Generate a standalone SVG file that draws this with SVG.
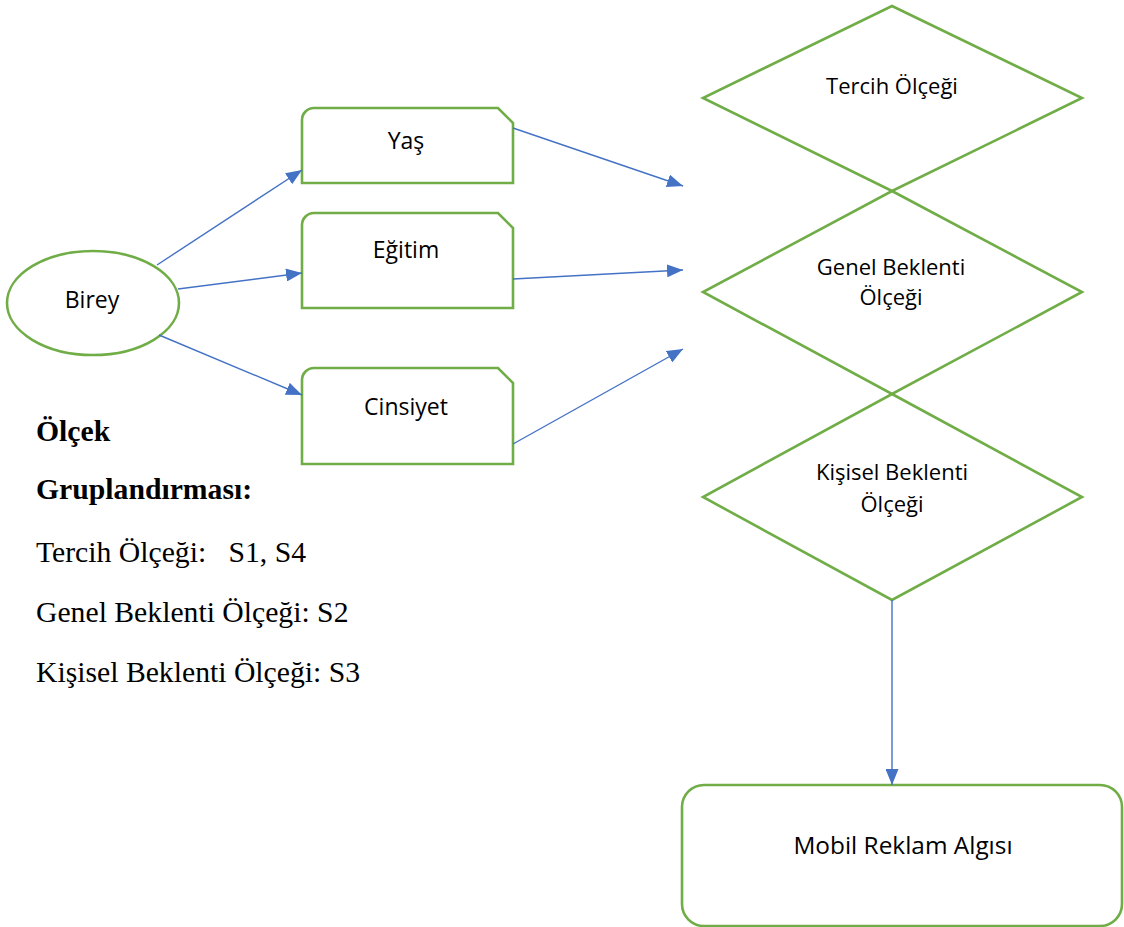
<svg xmlns="http://www.w3.org/2000/svg" width="1124" height="927" viewBox="0 0 1124 927">
<defs>
<style>
.node{fill:#FFFFFF;stroke:#70AD47;stroke-width:2.6;stroke-linejoin:miter}
.lbl{font-family:"Open Sans","Noto Sans","Liberation Sans",sans-serif;font-size:23px;fill:#000000;text-anchor:middle}
.big{font-size:24.4px}
.dlbl{font-family:"Open Sans","Noto Sans","Liberation Sans",sans-serif;font-size:22px;fill:#000000;text-anchor:middle}
.conn{fill:none;stroke:#4472C4;stroke-width:1.4}
.serif{font-family:"Liberation Serif","Times New Roman",serif;font-size:29.7px;fill:#000000}
.bold{font-weight:bold}
</style>
<marker id="arr" viewBox="0 0 16 13" refX="16" refY="6.5" markerWidth="16" markerHeight="13" markerUnits="userSpaceOnUse" orient="auto">
<path d="M0,0 L16,6.5 L0,13 Z" fill="#4472C4"/>
</marker>
</defs>
<rect width="1124" height="927" fill="#FFFFFF"/>

<g id="birey">
<ellipse class="node" cx="93" cy="303" rx="86" ry="52"/>
<text class="lbl" x="92" y="308">Birey</text>
</g>

<g id="yas">
<path class="node" d="M302,183 L302,120 A12,12 0 0 1 314,108 L498,108 L513,123 L513,183 Z"/>
<text class="lbl" x="406" y="149">Yaş</text>
</g>

<g id="egitim">
<path class="node" d="M302,308 L302,225 A12,12 0 0 1 314,213 L498,213 L513,228 L513,308 Z"/>
<text class="lbl" x="406" y="258">Eğitim</text>
</g>

<g id="cinsiyet">
<path class="node" d="M302,464 L302,380 A12,12 0 0 1 314,368 L498,368 L513,383 L513,464 Z"/>
<text class="lbl" x="406" y="415">Cinsiyet</text>
</g>

<g id="tercih">
<path class="node" d="M892,6 L1082,98 L892,191 L703,98 Z" fill="none"/>
<text class="dlbl" x="892" y="94">Tercih Ölçeği</text>
</g>

<g id="genel">
<path class="node" d="M892,191 L1082,292 L892,394 L703,292 Z"/>
<text class="dlbl" x="891" y="275">Genel Beklenti</text>
<text class="dlbl" x="891" y="305">Ölçeği</text>
</g>

<g id="kisisel">
<path class="node" d="M892,394 L1082,497 L892,600 L703,497 Z"/>
<text class="dlbl" x="892" y="480">Kişisel Beklenti</text>
<text class="dlbl" x="892" y="512">Ölçeği</text>
</g>

<g id="mobil">
<rect class="node" x="682" y="785" width="440" height="141" rx="22" ry="22"/>
<text class="lbl big" x="903" y="854">Mobil Reklam Algısı</text>
</g>

<g id="connectors">
<line class="conn" x1="157" y1="265" x2="302" y2="170" marker-end="url(#arr)"/>
<line class="conn" x1="178" y1="289" x2="302" y2="273" marker-end="url(#arr)"/>
<line class="conn" x1="159" y1="335" x2="302" y2="395" marker-end="url(#arr)"/>
<line class="conn" x1="513" y1="128" x2="683" y2="186" marker-end="url(#arr)"/>
<line class="conn" x1="513" y1="279" x2="683" y2="270" marker-end="url(#arr)"/>
<line class="conn" x1="513" y1="444" x2="683" y2="349" marker-end="url(#arr)"/>
<line class="conn" x1="892" y1="600" x2="892" y2="785" marker-end="url(#arr)"/>
</g>

<g id="legend">
<text class="serif bold" x="36" y="441">Ölçek</text>
<text class="serif bold" x="36" y="499">Gruplandırması:</text>
<text class="serif" x="36" y="562" xml:space="preserve">Tercih Ölçeği:   S1, S4</text>
<text class="serif" x="36" y="622">Genel Beklenti Ölçeği: S2</text>
<text class="serif" x="36" y="682">Kişisel Beklenti Ölçeği: S3</text>
</g>
</svg>
